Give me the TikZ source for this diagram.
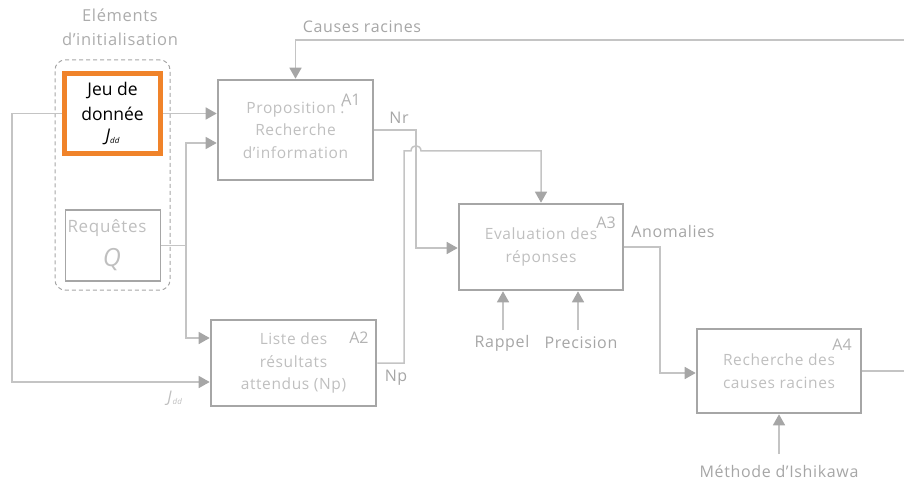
\documentclass[tikz,border=0pt]{standalone}
\usepackage{fontspec}
\setmainfont{Open Sans}
\newfontfamily\spacedfont[LetterSpace=4]{Open Sans}
\usetikzlibrary{arrows.meta}
\definecolor{boxgray}{HTML}{A6A6A6}
\definecolor{linegray}{HTML}{C4C4C4}
\definecolor{txtgray}{HTML}{BFBFBF}
\definecolor{lblgray}{HTML}{A6A6A6}
\definecolor{orng}{HTML}{F0832A}
\begin{document}
\begin{tikzpicture}[x=1pt,y=-1pt,
  actbox/.style={draw=boxgray, line width=2.6pt, align=center, text=txtgray,
    font=\spacedfont\fontsize{15.5}{22.5}\selectfont, inner sep=0pt},
  lbl/.style={text=lblgray, font=\spacedfont\fontsize{16}{18}\selectfont, inner sep=0pt},
  alab/.style={text=boxgray!85, font=\fontsize{16}{18}\selectfont, inner sep=0pt},
  wire/.style={draw=linegray, line width=1.5pt},
  conn/.style={wire, -{Triangle[length=11pt,width=12pt,color=boxgray]}},
]
\useasboundingbox (0,0) rectangle (904,481);

% group
\node[draw=boxgray, line width=1pt, dash pattern=on 4pt off 3pt, rounded corners=10pt,
      minimum width=115pt, minimum height=230pt] (init) at (112.5,175) {};
\node[lbl, text=txtgray!90!black, align=center, font=\spacedfont\fontsize{16.5}{24}\selectfont] (initlbl) at (120,27) {Eléments\\d’initialisation};

% inputs
\node[draw=orng, line width=5pt, minimum width=96pt, minimum height=80pt, align=center,
      font=\fontsize{17.5}{25}\selectfont, inner sep=0pt] (jdd) at (112.5,113.5)
  {Jeu de\\donnée\\[-4pt]\textit{J}\raisebox{-2pt}{\fontsize{8}{8}\selectfont\textit{dd}}};
\node[draw=boxgray, line width=1.2pt, minimum width=95pt, minimum height=71pt] (req) at (113,245.5) {};
\node[text=txtgray, font=\spacedfont\fontsize{17}{18}\selectfont, inner sep=0pt] (reqt) at (107,228) {Requêtes};
\node[text=txtgray, font=\fontsize{25}{25}\selectfont\itshape, inner sep=0pt] (qt) at (112,260) {Q};

% activities
\node[actbox, minimum width=155pt, minimum height=100pt] (a1) at (295.5,130)
  {Proposition :\\Recherche\\d’information};
\node[alab] (a1l) at (351,100) {A1};
\node[actbox, minimum width=165pt, minimum height=86pt] (a2) at (293.5,363)
  {Liste des\\résultats\\attendus (Np)};
\node[alab] (a2l) at (359,338) {A2};
\node[actbox, minimum width=164pt, minimum height=86pt] (a3) at (541,247)
  {Evaluation des\\réponses};
\node[alab] (a3l) at (606,223) {A3};
\node[actbox, minimum width=164pt, minimum height=84pt] (a4) at (779,371)
  {Recherche des\\causes racines};
\node[alab] (a4l) at (842,345) {A4};

% labels
\node[lbl] (crl) at (362,27) {Causes racines};
\node[lbl] (nrl) at (399,118) {Nr};
\node[lbl] (npl) at (396,378) {Np};
\node[lbl] (anl) at (673,231) {Anomalies};
\node[lbl] (rap) at (502,343) {Rappel};
\node[lbl] (pre) at (581,343) {Precision};
\node[lbl] (ish) at (779,471) {Méthode d’Ishikawa};
\node[lbl, text=txtgray] (jddl) at (175,398) {\textit{J}\raisebox{-2pt}{\fontsize{8}{8}\selectfont\textit{dd}}};

% coordinates
\coordinate (loopL) at (12,382);
\coordinate (qsplit) at (186,245.5);
\coordinate (qup) at (186,143);
\coordinate (qdn) at (186,338);
\coordinate (nrdown) at (416,248);
\coordinate (npup) at (404,151);
\coordinate (hopA) at (411,151);
\coordinate (hopB) at (421,151);
\coordinate (crR) at (904,40);
\coordinate (andn) at (660,373);
\coordinate (rapS) at (503,330);
\coordinate (preS) at (578,330);
\coordinate (ishS) at (779,454);

% connectors
\draw[conn] (jdd.east) -- (jdd.east -| a1.west);
\draw[conn] (jdd.west) -| (loopL) -- (loopL -| a2.west);
\draw[wire] (req.east) -- (qsplit);
\draw[conn] (qsplit) -- (qup) -- (qup -| a1.west);
\draw[conn] (qsplit) -- (qdn) -- (qdn -| a2.west);
\draw[conn] (a1.east) -| (nrdown) -- (nrdown -| a3.west);
\draw[conn] (a2.east) -| (npup) -- (hopA) .. controls (411,144) and (421,144) .. (hopB) -| (a3.north);
\draw[conn] (crR) -| (a1.north);
\draw[wire] (a4.east) -- (a4.east -| crR);
\draw[conn] (a3.east) -| (andn) -- (andn -| a4.west);
\draw[conn] (rapS) -- (rapS |- a3.south);
\draw[conn] (preS) -- (preS |- a3.south);
\draw[conn] (ishS) -- (a4.south);
\end{tikzpicture}
\end{document}
